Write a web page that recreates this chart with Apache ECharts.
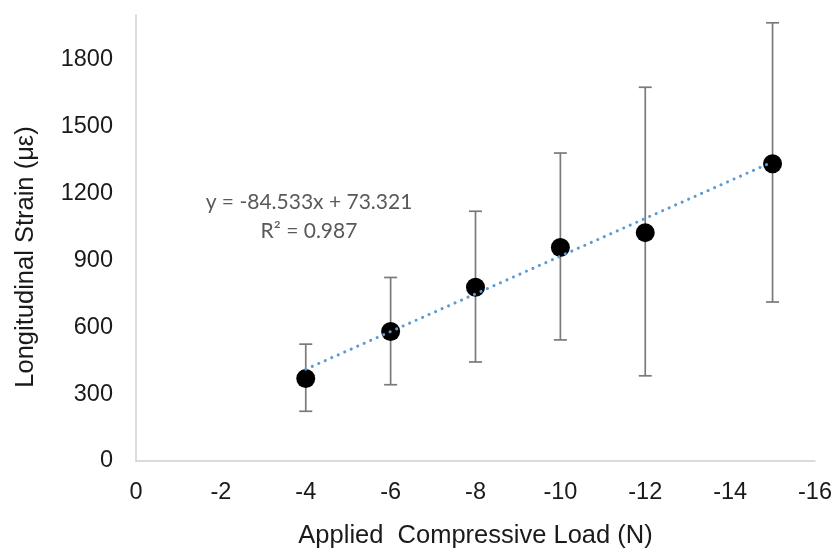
<!DOCTYPE html>
<html>
<head>
<meta charset="utf-8">
<script src="https://cdn.jsdelivr.net/npm/echarts@6/dist/echarts.min.js"></script>
<style>
html,body{margin:0;padding:0;background:#fff;}
#chart{width:837px;height:554px;}
</style>
</head>
<body>
<div id="chart"></div>
<script>
// Data
var loads = [-4, -6, -8, -10, -12, -15];
var strain = [370, 581, 779, 957, 1024, 1333];
var errUpper = [524, 823, 1120, 1381, 1676, 1965];
var errLower = [223, 342, 444, 543, 382, 713];
var trendSlope = -84.533;
var trendIntercept = 73.321;
var trendR2 = 0.987;
var xTicks = { min: -16, max: 0, interval: 2 };
var yTicks = { min: 0, max: 2000, interval: 300 };

var trendX = [Math.max.apply(null, loads), Math.min.apply(null, loads)];
var trendData = trendX.map(function (x) { return [x, trendSlope * x + trendIntercept]; });
var errData = loads.map(function (x, i) { return [x, errLower[i], errUpper[i]]; });
var pointData = loads.map(function (x, i) { return [x, strain[i]]; });

var chart = echarts.init(document.getElementById('chart'));
var font = '"Liberation Sans", Arial, sans-serif';
var eqFont = 'Lato, "Open Sans", sans-serif';
chart.setOption({
  animation: false,
  grid: { left: 136, top: 15, right: 22, bottom: 87 },
  xAxis: {
    type: 'value', inverse: true,
    min: xTicks.min, max: xTicks.max, interval: xTicks.interval,
    name: 'Applied  Compressive Load (N)',
    nameLocation: 'middle', nameGap: 62,
    nameTextStyle: { fontFamily: font, fontSize: 25.5, color: '#1a1a1a' },
    axisLine: { show: true, lineStyle: { color: '#d0d0d0', width: 1.5 } },
    axisTick: { show: false },
    splitLine: { show: false },
    axisLabel: { fontFamily: font, fontSize: 23.5, color: '#1a1a1a', margin: 20,
      formatter: function (v) { return String(v); } }
  },
  yAxis: {
    type: 'value',
    min: yTicks.min, max: yTicks.max, interval: yTicks.interval,
    name: 'Longitudinal Strain (με)',
    nameLocation: 'middle', nameGap: 97,
    nameTextStyle: { fontFamily: font, fontSize: 25.5, color: '#1a1a1a', padding: [0, 38, 0, 0] },
    axisLine: { show: true, lineStyle: { color: '#d0d0d0', width: 1.5 } },
    axisTick: { show: false },
    splitLine: { show: false },
    axisLabel: { fontFamily: font, fontSize: 23.5, color: '#1a1a1a', margin: 23, showMaxLabel: false,
      formatter: function (v) { return String(v); } }
  },
  graphic: [
    { type: 'text', x: 309, y: 202, z: 10,
      style: { text: 'y = -84.533x + 73.321', fill: '#595959', fontFamily: eqFont, fontSize: 21,
        align: 'center', verticalAlign: 'middle' } },
    { type: 'text', x: 309, y: 231, z: 10,
      style: { text: 'R² = ' + trendR2, fill: '#595959', fontFamily: eqFont, fontSize: 21,
        align: 'center', verticalAlign: 'middle' } }
  ],
  series: [
    {
      type: 'custom', z: 1,
      data: errData,
      renderItem: function (params, api) {
        var x = api.value(0);
        var lo = api.coord([x, api.value(1)]);
        var hi = api.coord([x, api.value(2)]);
        var c = 6.5;
        var st = { stroke: '#7a7a7a', lineWidth: 1.7 };
        return {
          type: 'group',
          children: [
            { type: 'line', shape: { x1: lo[0], y1: lo[1], x2: hi[0], y2: hi[1] }, style: st },
            { type: 'line', shape: { x1: lo[0] - c, y1: lo[1], x2: lo[0] + c, y2: lo[1] }, style: st },
            { type: 'line', shape: { x1: hi[0] - c, y1: hi[1], x2: hi[0] + c, y2: hi[1] }, style: st }
          ]
        };
      }
    },
    {
      type: 'scatter', z: 3,
      data: pointData,
      symbol: 'circle', symbolSize: 19,
      itemStyle: { color: '#000', opacity: 1 }
    },
    {
      type: 'line', z: 5,
      data: trendData,
      showSymbol: false, symbol: 'none',
      lineStyle: { color: '#5b9bd5', width: 3, type: [0.1, 7], cap: 'round' }
    }
  ]
});
</script>
</body>
</html>
